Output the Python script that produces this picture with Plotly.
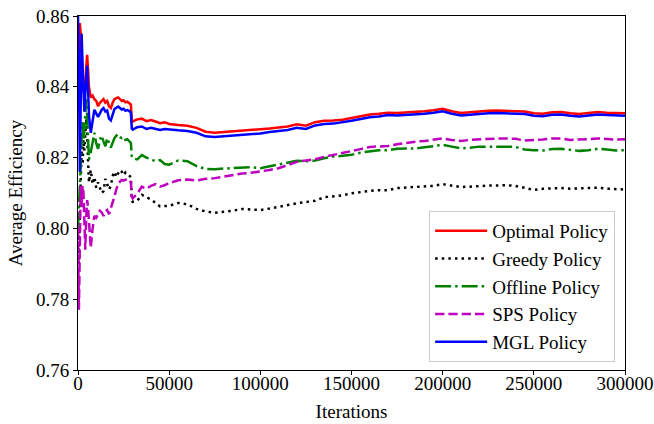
import plotly.graph_objects as go

iterations = [0, 500, 1000, 1500, 2000, 2500, 3000, 3500, 4000, 4500, 5000, 5500, 6000,
              7000, 8000, 9000, 10000, 11000, 12000, 13000, 14000, 15000, 16000, 17000, 18000,
              19000, 20000, 21000, 22000, 23000, 24000, 25000, 26000, 27000, 28000, 29000,
              29500, 30000, 32500, 35000, 37500, 40000, 42500, 45000, 47500,
              50000, 55000, 60000, 65000, 70000, 75000, 80000, 85000, 90000, 95000,
              100000, 105000, 110000, 115000, 120000, 125000, 130000, 135000, 140000, 145000,
              150000, 155000, 160000, 165000, 170000, 175000, 180000, 185000, 190000, 195000,
              200000, 205000, 210000, 215000, 220000, 225000, 230000, 235000, 240000, 245000,
              250000, 255000, 260000, 265000, 270000, 275000, 280000, 285000, 290000, 295000,
              300000]

optimal = [0.840, 0.852, 0.858, 0.855, 0.848, 0.842, 0.839, 0.838, 0.842, 0.847, 0.849, 0.845, 0.840,
           0.837, 0.8375, 0.8365, 0.836, 0.8345, 0.8355, 0.836, 0.8365, 0.8355, 0.836, 0.8345, 0.834,
           0.8355, 0.8365, 0.8368, 0.837, 0.8365, 0.836, 0.8362, 0.8356, 0.8358, 0.8355, 0.8350,
           0.8305, 0.8302, 0.8308, 0.8310, 0.8303, 0.8306, 0.8302, 0.8297, 0.8300,
           0.8295, 0.8292, 0.8290, 0.8284, 0.8273, 0.8270, 0.8272, 0.8274, 0.8276, 0.8276,
           0.8279, 0.8282, 0.8285, 0.8288, 0.8294, 0.8290, 0.8300, 0.8304, 0.8305, 0.8307,
           0.8312, 0.8317, 0.8322, 0.8324, 0.8327, 0.8326, 0.8327, 0.8329, 0.8331, 0.8334,
           0.8338, 0.8331, 0.8326, 0.8328, 0.8331, 0.8332, 0.8333, 0.8332, 0.8332, 0.8330,
           0.8325, 0.8324, 0.8328, 0.8329, 0.8325, 0.8323, 0.8326, 0.8329, 0.8327, 0.8325,
           0.8325]

greedy = [0.800, 0.790, 0.805, 0.812, 0.822, 0.818, 0.825, 0.822, 0.828, 0.831, 0.826, 0.818, 0.813,
          0.8165, 0.8125, 0.8145, 0.8115, 0.8130, 0.8115, 0.8100, 0.8105, 0.8140, 0.8125, 0.8110, 0.8120,
          0.8148, 0.8160, 0.8145, 0.8155, 0.8165, 0.8160, 0.8150, 0.8158, 0.8152, 0.8150, 0.8145,
          0.8078, 0.8075, 0.8078, 0.8095, 0.8088, 0.8082, 0.8072, 0.8062, 0.8063,
          0.8064, 0.8072, 0.8068, 0.8055, 0.8048, 0.8044, 0.8046, 0.8050, 0.8055, 0.8054,
          0.8052, 0.8056, 0.8060, 0.8066, 0.8071, 0.8074, 0.8078, 0.8088, 0.8090, 0.8093,
          0.8099, 0.8103, 0.8106, 0.8108, 0.8108, 0.8114, 0.8115, 0.8116, 0.8117, 0.8120,
          0.8125, 0.8121, 0.8117, 0.8118, 0.8120, 0.8121, 0.8121, 0.8122, 0.8120, 0.8114,
          0.8109, 0.8112, 0.8114, 0.8114, 0.8112, 0.8113, 0.8113, 0.8115, 0.8112, 0.8111,
          0.8110]

offline = [0.800, 0.805, 0.812, 0.818, 0.826, 0.830, 0.824, 0.828, 0.833, 0.8365, 0.832, 0.826, 0.8195,
           0.8215, 0.8245, 0.8270, 0.8240, 0.8225, 0.8250, 0.8262, 0.8245, 0.8232, 0.8255, 0.8240, 0.8228,
           0.8242, 0.8255, 0.8262, 0.8266, 0.8258, 0.8255, 0.8258, 0.8250, 0.8252, 0.8248, 0.8242,
           0.8203, 0.8198, 0.8195, 0.8207, 0.8200, 0.8196, 0.8190, 0.8193, 0.8182,
           0.8180, 0.8192, 0.8190, 0.8176, 0.8168, 0.8167, 0.8169, 0.8170, 0.8172, 0.8173,
           0.8170, 0.8175, 0.8180, 0.8186, 0.8191, 0.8190, 0.8192, 0.8198, 0.8203, 0.8205,
           0.8208, 0.8214, 0.8218, 0.8221, 0.8221, 0.8225, 0.8226, 0.8226, 0.8229, 0.8232,
           0.8236, 0.8231, 0.8226, 0.8228, 0.8231, 0.8231, 0.8232, 0.8231, 0.8230, 0.8223,
           0.8221, 0.8220, 0.8224, 0.8225, 0.8222, 0.8219, 0.8221, 0.8225, 0.8223, 0.8220,
           0.8221]

sps = [0.800, 0.777, 0.795, 0.812, 0.806, 0.812, 0.810, 0.800, 0.794, 0.803, 0.808, 0.806, 0.801,
       0.7945, 0.8000, 0.8035, 0.8030, 0.8040, 0.8050, 0.8045, 0.8035, 0.8048, 0.8052, 0.8040, 0.8055,
       0.8072, 0.8090, 0.8110, 0.8125, 0.8132, 0.8137, 0.8135, 0.8138, 0.8140, 0.8138, 0.8130,
       0.8090, 0.8085, 0.8098, 0.8118, 0.8112, 0.8120, 0.8125, 0.8118, 0.8122,
       0.8128, 0.8136, 0.8138, 0.8135, 0.8140, 0.8142, 0.8147, 0.8150, 0.8155, 0.8157,
       0.8160, 0.8165, 0.8170, 0.8180, 0.8188, 0.8192, 0.8195, 0.8202, 0.8207, 0.8212,
       0.8218, 0.8224, 0.8230, 0.8231, 0.8233, 0.8238, 0.8242, 0.8245, 0.8247, 0.8250,
       0.8254, 0.8250, 0.8247, 0.8250, 0.8252, 0.8253, 0.8254, 0.8254, 0.8253, 0.8248,
       0.8249, 0.8251, 0.8254, 0.8254, 0.8250, 0.8250, 0.8252, 0.8254, 0.8252, 0.8251,
       0.8252]

mgl = [0.860, 0.845, 0.816, 0.838, 0.855, 0.846, 0.838, 0.833, 0.838, 0.843, 0.846, 0.840, 0.832,
       0.827, 0.831, 0.8335, 0.8325, 0.8315, 0.8325, 0.8335, 0.8340, 0.8330, 0.8333, 0.8310, 0.8305,
       0.8322, 0.8337, 0.8341, 0.8344, 0.8340, 0.8336, 0.8338, 0.8332, 0.8334, 0.8332, 0.8327,
       0.8282, 0.8279, 0.8286, 0.8288, 0.8281, 0.8284, 0.8280, 0.8278, 0.8281,
       0.8279, 0.8277, 0.8275, 0.8270, 0.8260, 0.8258, 0.8260, 0.8262, 0.8265, 0.8265,
       0.8268, 0.8272, 0.8275, 0.8278, 0.8284, 0.8281, 0.8291, 0.8295, 0.8296, 0.8299,
       0.8304, 0.8309, 0.8314, 0.8316, 0.8320, 0.8319, 0.8320, 0.8322, 0.8324, 0.8327,
       0.8331, 0.8324, 0.8319, 0.8321, 0.8324, 0.8325, 0.8326, 0.8325, 0.8325, 0.8323,
       0.8318, 0.8317, 0.8321, 0.8322, 0.8318, 0.8316, 0.8319, 0.8322, 0.8320, 0.8318,
       0.8318]

series_names = ["Optimal Policy", "Greedy Policy", "Offline Policy", "SPS Policy", "MGL Policy"]
x_ticks = [0, 50000, 100000, 150000, 200000, 250000, 300000]
x_tick_labels = ["0", "50000", "100000", "150000", "200000", "250000", "300000"]
y_ticks = [0.76, 0.78, 0.80, 0.82, 0.84, 0.86]
y_tick_labels = ["0.76", "0.78", "0.80", "0.82", "0.84", "0.86"]

styles = [
    dict(color="#ff0000", dash="solid"),
    dict(color="#000000", dash="2.5px,4.1px"),
    dict(color="#008000", dash="16px,4px,2.5px,4px"),
    dict(color="#bf00bf", dash="9.25px,4px"),
    dict(color="#0000ff", dash="solid"),
]

fig = go.Figure()
for name, ys, st in zip(series_names, [optimal, greedy, offline, sps, mgl], styles):
    fig.add_trace(go.Scatter(x=iterations, y=ys, mode="lines", name=name,
                             line=dict(color=st["color"], dash=st["dash"], width=2.5)))

font_family = "Liberation Serif, Times New Roman, serif"
fig.update_layout(
    width=654, height=424,
    margin=dict(l=78, r=29, t=16, b=54, autoexpand=False),
    paper_bgcolor="white", plot_bgcolor="white",
    font=dict(family=font_family, size=19, color="black"),
    showlegend=True,
    legend=dict(x=0.982, y=0.0226, xanchor="right", yanchor="bottom", itemwidth=52,
                bgcolor="rgba(255,255,255,0.8)", bordercolor="#cccccc", borderwidth=1,
                font=dict(family=font_family, size=19, color="black")),
    xaxis=dict(range=[0, 300000], tickmode="array", tickvals=x_ticks, ticktext=x_tick_labels,
               showgrid=False, zeroline=False, showline=True, mirror=True, linecolor="black",
               linewidth=1, ticks="outside", ticklen=4, tickcolor="black", tickwidth=1,
               automargin=False, ticklabelstandoff=-8, tickfont=dict(family=font_family, size=19),
               title=dict(text="Iterations", standoff=11, font=dict(family=font_family, size=19))),
    yaxis=dict(range=[0.76, 0.86], tickmode="array", tickvals=y_ticks, ticktext=y_tick_labels,
               showgrid=False, zeroline=False, showline=True, mirror=True, linecolor="black",
               linewidth=1, ticks="outside", ticklen=4, tickcolor="black", tickwidth=1,
               automargin=False, tickfont=dict(family=font_family, size=19),
               title=dict(text="Average Efficiency", standoff=8, font=dict(family=font_family, size=19))),
)

fig.write_html("out.html")
